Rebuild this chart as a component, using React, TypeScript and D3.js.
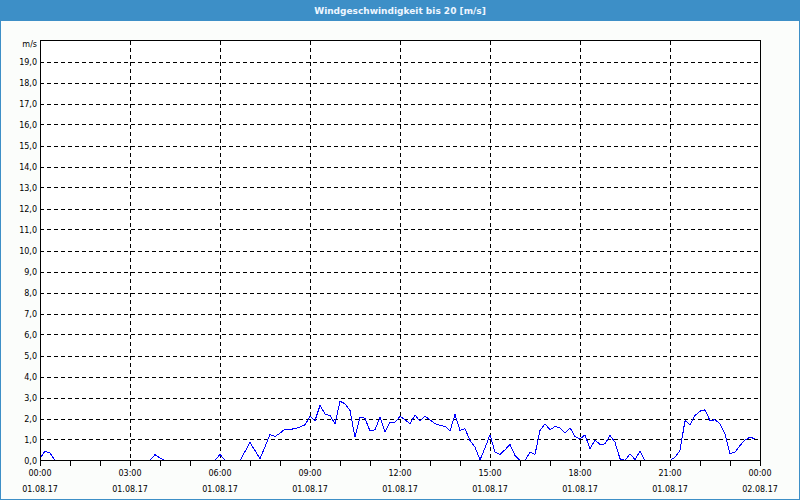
import React from "react";
import * as d3 from "d3";

const title = "Windgeschwindigkeit bis 20 [m/s]";
const unitLabel = "m/s";
const startTime = new Date(2017, 7, 1, 0, 0);
const endTime = new Date(2017, 7, 2, 0, 0);
const stepMinutes = 10;
const speeds: number[] = [
  0.1, 0.45, 0.35, 0, 0, 0, 0, 0, 0, 0, 0, 0, 0, 0, 0, 0, 0, 0, 0, 0, 0, 0,
  0, 0.28, 0.12, 0, 0, 0, 0, 0, 0, 0, 0, 0, 0, 0, 0.3, 0, 0, 0, 0,
  0.43, 0.86, 0.47, 0.08, 0.66, 1.24, 1.14, 1.3, 1.5, 1.48, 1.52, 1.6, 1.7, 2.1, 1.9,
  2.62, 2.22, 2.14, 1.75, 2.82, 2.7, 2.38, 1.11, 2.06, 2.01, 1.4, 1.46, 2.06, 1.35,
  1.82, 1.82, 2.1, 1.94, 1.75, 2.17, 1.87, 2.11, 1.94, 1.75, 1.67, 1.63, 1.4, 2.19,
  1.43, 1.51, 0.95, 0.63, 0.03, 0.6, 1.22, 0.4, 0.29, 0.51, 0.76, 0.24, 0, 0,
  0.4, 0.29, 1.43, 1.75, 1.46, 1.62, 1.56, 1.32, 1.56, 1.14, 1.03, 1.22, 0.56, 0.98,
  0.76, 0.79, 1.19, 0.87, 0.08, 0, 0.32, 0.05, 0.43, 0, 0, 0, 0, 0, 0, 0.16,
  0.48, 1.9, 1.71, 2.14, 2.35, 2.41, 1.9, 1.94, 1.75, 1.27, 0.32, 0.4, 0.71, 0.98,
  1.11, 1.03,
];
const yTicks: number[] = d3.range(0, 20, 1);

const W = 800;
const H = 500;
const left = 40;
const right = 760;
const top = 40.5;
const bottom = 460.5;
const font = "'DejaVu Sans', Verdana, sans-serif";

export default function App() {
  const x = d3.scaleTime().domain([startTime, endTime]).range([left, right]);
  const y = d3.scaleLinear().domain([0, 20]).range([bottom, top]);
  const data = speeds.map((v, i) => ({
    t: new Date(startTime.getTime() + i * stepMinutes * 60000),
    v,
  }));
  const line = d3
    .line<{ t: Date; v: number }>()
    .x((d) => x(d.t))
    .y((d) => y(d.v));
  const hourTicks = d3.timeHour.every(1)!.range(startTime, new Date(endTime.getTime() + 1));
  const gridTimes = d3.timeHour.every(3)!.range(startTime, new Date(endTime.getTime() + 1));
  const fmtTime = d3.timeFormat("%H:%M");
  const fmtDate = d3.timeFormat("%d.%m.%y");
  const fmtY = (v: number) => v.toFixed(1).replace(".", ",");
  const px = (v: number) => Math.round(v) + 0.5;

  return (
    <svg
      width={W}
      height={H}
      style={{ position: "absolute", left: 0, top: 0, display: "block" }}
    >
      <rect x={0} y={0} width={W} height={H} fill="#fbfdfb" />
      <rect x={0} y={0} width={W} height={21} fill="#3d8fc7" />
      <rect x={0.5} y={0.5} width={W - 1} height={H - 1} fill="none" stroke="#3d8fc7" />
      <text
        x={W / 2}
        y={14}
        textAnchor="middle"
        fill="#eef6ff"
        fontFamily={font}
        fontSize={9}
        fontWeight="bold"
      >
        {title}
      </text>
      <rect x={left} y={top} width={right - left} height={bottom - top} fill="#ffffff" />
      {yTicks
        .filter((v) => v > 0)
        .map((v) => (
          <line
            key={"gy" + v}
            x1={left}
            x2={right}
            y1={px(y(v))}
            y2={px(y(v))}
            stroke="#000"
            strokeDasharray="4,3"
            shapeRendering="crispEdges"
          />
        ))}
      {gridTimes.slice(1, -1).map((t, i) => (
        <line
          key={"gx" + i}
          x1={px(x(t))}
          x2={px(x(t))}
          y1={top}
          y2={bottom}
          stroke="#000"
          strokeDasharray="4,3"
          shapeRendering="crispEdges"
        />
      ))}
      <path
        d={line(data) || ""}
        fill="none"
        stroke="#0000ff"
        strokeWidth={1}
        shapeRendering="crispEdges"
      />
      <rect
        x={left + 0.5}
        y={top}
        width={right - left}
        height={bottom - top}
        fill="none"
        stroke="#000"
        shapeRendering="crispEdges"
      />
      {hourTicks.map((t, i) => (
        <line
          key={"tk" + i}
          x1={px(x(t))}
          x2={px(x(t))}
          y1={bottom}
          y2={bottom + 5}
          stroke="#000"
          shapeRendering="crispEdges"
        />
      ))}
      {yTicks.map((v) => (
        <text
          key={"ly" + v}
          x={37}
          y={y(v) + 3.5}
          textAnchor="end"
          fontFamily={font}
          fontSize={8}
          fill="#000"
        >
          {fmtY(v)}
        </text>
      ))}
      <text x={37} y={47} textAnchor="end" fontFamily={font} fontSize={8} fill="#000">
        {unitLabel}
      </text>
      {gridTimes.map((t, i) => (
        <g key={"lx" + i}>
          <text
            x={x(t)}
            y={476}
            textAnchor="middle"
            fontFamily={font}
            fontSize={8}
            fill="#000"
          >
            {fmtTime(t)}
          </text>
          <text
            x={x(t)}
            y={492}
            textAnchor="middle"
            fontFamily={font}
            fontSize={8}
            fill="#000"
          >
            {fmtDate(t)}
          </text>
        </g>
      ))}
    </svg>
  );
}
